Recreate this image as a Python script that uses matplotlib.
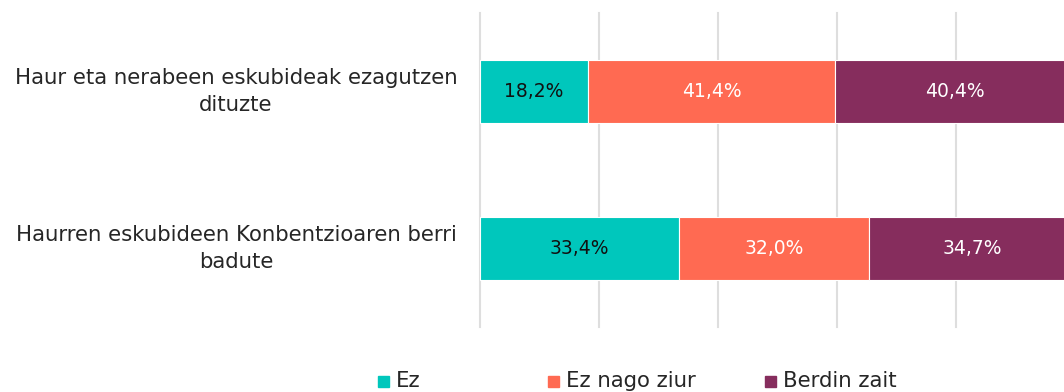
import matplotlib
matplotlib.use("Agg")
import matplotlib.pyplot as plt
from matplotlib.patches import Rectangle
from matplotlib.transforms import blended_transform_factory

# survey answers per statement (percent of respondents)
categories = ["Haur eta nerabeen eskubideak ezagutzen\ndituzte",
              "Haurren eskubideen Konbentzioaren berri\nbadute"]
series = ["Ez", "Ez nago ziur", "Berdin zait"]
values = {
    "Ez": [18.2, 33.4],
    "Ez nago ziur": [41.4, 32.0],
    "Berdin zait": [40.4, 34.7],
}
colors = {"Ez": "#00c7bc", "Ez nago ziur": "#ff6a52", "Berdin zait": "#862d5d"}
text_colors = {"Ez": "#111111", "Ez nago ziur": "white", "Berdin zait": "white"}

plt.rcParams["font.family"] = ["DejaVu Sans"]
W, H = 1064, 392
fig = plt.figure(figsize=(W / 100, H / 100), dpi=100)
ax = fig.add_axes([480 / W, 1 - 327 / H, (1075 - 480) / W, 314 / H])

y = list(range(len(categories)))
left = [0.0] * len(categories)
for s in series:
    bars = ax.barh(y, values[s], left=left, height=0.4, color=colors[s],
                   edgecolor="white", linewidth=0.8, zorder=2)
    for b, v in zip(bars, values[s]):
        ax.text(b.get_x() + b.get_width() / 2, b.get_y() + b.get_height() / 2,
                f"{v:.1f}".replace(".", ",") + "%", ha="center", va="center",
                color=text_colors[s], fontsize=13.5, zorder=3)
    left = [l + v for l, v in zip(left, values[s])]

ax.set_xlim(0, 100)
ax.set_ylim(1.5, -0.5)
ax.set_xticks([0, 20, 40, 60, 80, 100])
ax.grid(axis="x", color="#dedede", linewidth=1.5, zorder=0)
for gl in ax.get_xgridlines():
    gl.set_clip_on(False)
ax.tick_params(length=0, labelbottom=False, labelleft=False)
for sp in ax.spines.values():
    sp.set_visible(False)

# category labels, centred left of the bars
trans = blended_transform_factory(fig.transFigure, ax.transData)
for yi, lab in zip(y, categories):
    ax.text(236 / W, yi, lab, transform=trans, ha="center", va="center",
            fontsize=15.3, color="#262626", linespacing=1.4)

# legend row along the bottom
leg_x = [378, 548, 765]
for x, s in zip(leg_x, series):
    fig.patches.append(Rectangle((x / W, 1 - 387 / H), 11 / W, 11 / H,
                                 transform=fig.transFigure, color=colors[s]))
    fig.text((x + 18) / W, 1 - 381 / H, s, ha="left", va="center",
             fontsize=15.3, color="#262626")

fig.savefig("out.png", dpi=100)
